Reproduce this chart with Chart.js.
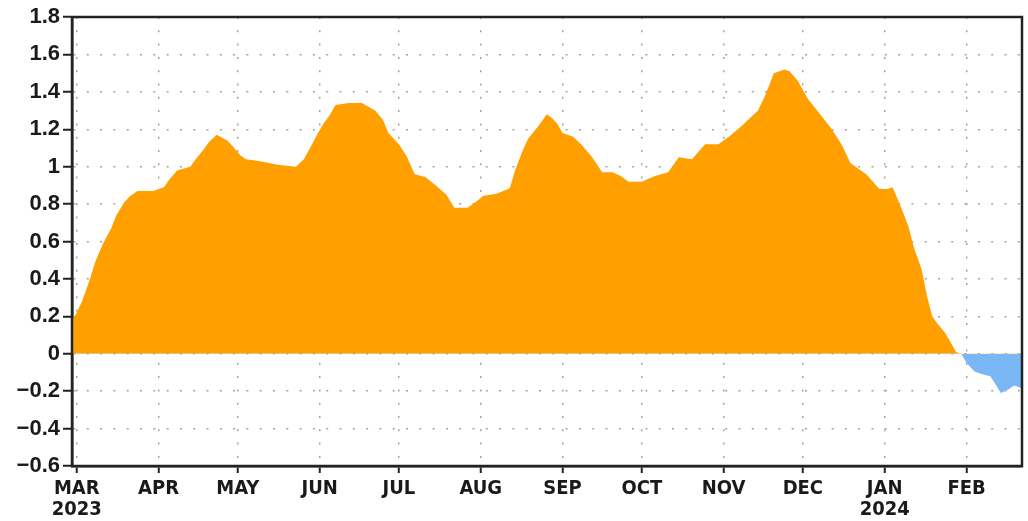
<!DOCTYPE html>
<html>
<head>
<meta charset="utf-8">
<title>Daily anomaly index</title>
<script src="https://cdn.jsdelivr.net/npm/chart.js@4/dist/chart.umd.min.js"></script>
<style>
  html, body { margin: 0; padding: 0; background: #fff; }
  canvas { display: block; }
</style>
</head>
<body>
<canvas id="chart" width="1028" height="521"></canvas>
<script>
// ============================================================
// DATA  (x = days since 1 Mar 2023)
// ============================================================

const days = [
  -2, 0, 2, 5, 7, 10, 13, 15, 18, 20, 23, 29, 33, 35, 38, 43, 45, 48, 50, 53,
  57, 59, 62, 64, 69, 76, 83, 86, 88, 91, 93, 96, 98, 103, 108, 113, 116, 118, 122, 125,
  128, 132, 136, 140, 143, 148, 151, 154, 159, 164, 166, 169, 171, 175, 178, 180, 182, 184, 188, 191,
  195, 199, 203, 206, 209, 214, 219, 224, 228, 233, 238, 243, 247, 252, 258, 261, 264, 268, 270, 273,
  277, 281, 286, 290, 293, 299, 304, 307, 309, 312, 315, 317, 320, 322, 324, 326, 329, 333, 335, 337,
  340, 343, 346, 348, 350, 353, 355, 358
];
const anomaly = [
  0.17, 0.22, 0.28, 0.40, 0.49, 0.59, 0.67, 0.74, 0.81, 0.84, 0.87, 0.87, 0.89, 0.93, 0.98, 1.00, 1.04, 1.09, 1.13, 1.17,
  1.14, 1.11, 1.06, 1.04, 1.03, 1.01, 1.00, 1.04, 1.09, 1.17, 1.22, 1.28, 1.33, 1.34, 1.34, 1.30, 1.25, 1.18, 1.12, 1.055,
  0.96, 0.945, 0.90, 0.85, 0.78, 0.78, 0.81, 0.845, 0.855, 0.885, 0.98, 1.09, 1.15, 1.22, 1.28, 1.26, 1.23, 1.18, 1.16, 1.12,
  1.055, 0.97, 0.97, 0.95, 0.92, 0.92, 0.95, 0.97, 1.05, 1.04, 1.12, 1.12, 1.16, 1.22, 1.30, 1.39, 1.50, 1.52, 1.51, 1.46,
  1.36, 1.29, 1.20, 1.11, 1.02, 0.96, 0.88, 0.88, 0.89, 0.79, 0.68, 0.57, 0.45, 0.31, 0.20, 0.16, 0.11, 0.01, 0.00, -0.05,
  -0.095, -0.11, -0.12, -0.165, -0.21, -0.19, -0.17, -0.185
];

// month ticks
const monthDays  = [0, 31, 61, 92, 122, 153, 184, 214, 245, 275, 306, 337];
const monthNames = ['MAR', 'APR', 'MAY', 'JUN', 'JUL', 'AUG', 'SEP', 'OCT', 'NOV', 'DEC', 'JAN', 'FEB'];
const yearLabels = { 0: '2023', 306: '2024' };

const yMin = -0.6, yMax = 1.8, yStep = 0.2;

// ============================================================
// CHART
// ============================================================

const FONT = "'Liberation Sans', Arial, sans-serif";
const NARROW = "'Liberation Sans Narrow', 'DejaVu Sans Condensed', 'Liberation Sans', Arial, sans-serif";

const framePlugin = {
  id: 'frame',
  afterDraw(chart) {
    const { ctx, chartArea: a } = chart;
    ctx.save();
    ctx.strokeStyle = '#222';
    ctx.lineWidth = 2.5;
    ctx.strokeRect(a.left, a.top, a.right - a.left, a.bottom - a.top);
    ctx.restore();
  }
};

const points = days.map((d, i) => ({ x: d, y: anomaly[i] }));

new Chart(document.getElementById('chart').getContext('2d'), {
  type: 'line',
  data: {
    datasets: [{
      data: points,
      borderWidth: 0,
      pointRadius: 0,
      tension: 0,
      fill: { target: 'origin', above: '#FFA000', below: '#7AB8F5' }
    }]
  },
  options: {
    responsive: false,
    animation: false,
    devicePixelRatio: 1,
    layout: { padding: { left: 0, right: 6, top: 17, bottom: 0 } },
    plugins: { legend: { display: false }, tooltip: { enabled: false } },
    scales: {
      x: {
        type: 'linear',
        min: -1.8,
        max: 358,
        z: 1,
        afterBuildTicks: s => { s.ticks = monthDays.map(v => ({ value: v })); },
        afterFit: s => { s.height = 55; },
        ticks: {
          autoSkip: false, maxRotation: 0, padding: 5,
          color: '#1a1a1a',
          font: { family: NARROW, size: 20, weight: '600', lineHeight: 1.05 },
          callback: v => {
            const i = monthDays.indexOf(v);
            if (i < 0) return '';
            return yearLabels[v] ? [monthNames[i], yearLabels[v]] : monthNames[i];
          }
        },
        grid: {
          color: '#a3a3a3', lineWidth: 1.5,
          drawTicks: true, tickLength: 7, tickColor: '#222', tickWidth: 2
        },
        border: { display: true, color: '#222', width: 2.5, dash: [2, 11.3] }
      },
      y: {
        min: yMin,
        max: yMax,
        z: 1,
        afterFit: s => { s.width = 72; },
        ticks: {
          stepSize: yStep, padding: 3,
          color: '#1a1a1a',
          font: { family: FONT, size: 22, weight: 'bold' },
          callback: v => {
            const r = Math.round(v * 10) / 10;
            return String(r).replace('-', '\u2212');
          }
        },
        grid: {
          color: '#a3a3a3', lineWidth: 1.5,
          drawTicks: true, tickLength: 9, tickColor: '#222', tickWidth: 2
        },
        border: { display: true, color: '#222', width: 2.5, dash: [2, 11.3] }
      }
    }
  },
  plugins: [framePlugin]
});
</script>
</body>
</html>
